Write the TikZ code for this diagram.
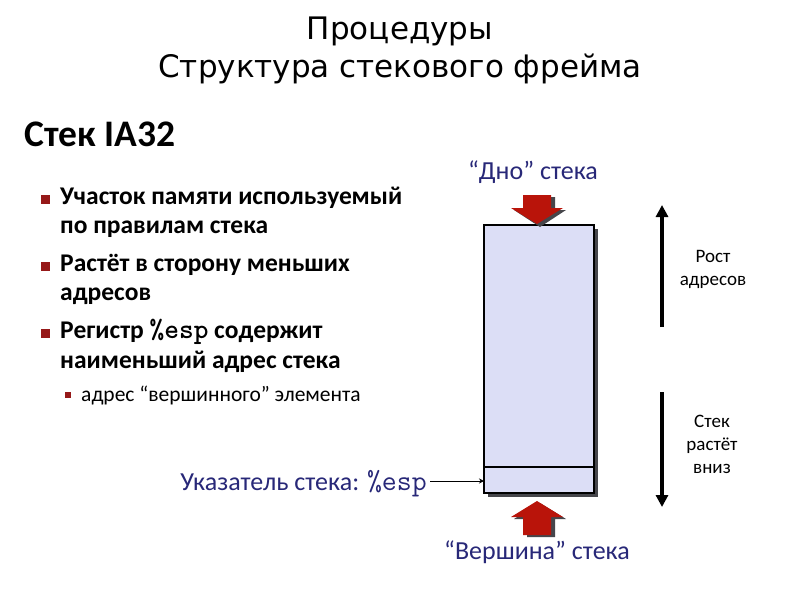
\documentclass[tikz,border=0pt]{standalone}
\usepackage{fontspec}
\setmainfont{Carlito}
\newfontfamily\titlefont{DejaVu Sans}
\usetikzlibrary{arrows.meta}
\definecolor{navy}{RGB}{40,40,120}
\definecolor{bulletred}{RGB}{150,25,25}
\definecolor{arrred}{RGB}{185,20,10}
\definecolor{stackfill}{RGB}{220,222,246}
\definecolor{shadowgray}{RGB}{70,70,75}
\tikzset{
  titletext/.style={font=\titlefont\fontsize{31}{38}\selectfont, align=center, inner sep=0},
  bultext/.style={font=\bfseries\fontsize{25.5}{29}\selectfont, anchor=west, inner sep=0},
  subtext/.style={font=\fontsize{21.5}{23}\selectfont, anchor=west, inner sep=0},
  bulsq/.style={fill=bulletred, minimum size=9pt, inner sep=0},
  subsq/.style={fill=bulletred, minimum size=6pt, inner sep=0},
  navylabel/.style={font=\fontsize{26}{30}\selectfont, text=navy, inner sep=0},
  sidelabel/.style={font=\fontsize{19}{23}\selectfont, align=center, inner sep=0},
  bigarrow/.style={line width=3.5pt, -{Triangle[width=12pt,length=12pt]}},
}
\begin{document}
\begin{tikzpicture}[x=1pt,y=-1pt]
\useasboundingbox (0,0) rectangle (800,600);
\fill[white] (0,0) rectangle (800,600);

% title
\node[titletext] (title) at (400,50) {Процедуры\\Структура стекового фрейма};

\node[font=\bfseries\fontsize{37.5}{42}\selectfont, anchor=west, inner sep=0] (head) at (24,134) {Стек IA32};

% bullets
\node[bulsq] (b1) at (45,199) {};
\node[bultext] (t1) at (60,198) {Участок памяти используемый};
\node[bultext] (t1b) at (60,229) {по правилам стека};
\node[bulsq] (b2) at (45,266) {};
\node[bultext] (t2) at (60,265) {Растёт в сторону меньших};
\node[bultext] (t2b) at (60,296) {адресов};
\node[bulsq] (b3) at (45,333) {};
\node[bultext] (t3) at (60,332) {Регистр {\ttfamily\bfseries\fontsize{28}{29}\selectfont\%esp} содержит};
\node[bultext] (t3b) at (60,362) {наименьший адрес стека};
\node[subsq] (b4) at (68,395) {};
\node[subtext] (t4) at (81,396) {адрес “вершинного” элемента};

% stack
\fill[shadowgray] (488,229) rectangle (598,497);
\draw[fill=stackfill, line width=1.6pt] (484,225) rectangle (594,493);
\coordinate (dl) at (484,467);
\coordinate (dr) at (594,467);
\draw[line width=1.6pt] (dl) -- (dr);

% top arrow
\fill[shadowgray] (527,197) -- (555,197) -- (555,210) -- (566,210) -- (540,227) -- (514,210) -- (527,210) -- cycle;
\fill[arrred] (523,195) -- (551,195) -- (551,208) -- (563,208) -- (537,224) -- (511,208) -- (523,208) -- cycle;
% bottom arrow
\fill[shadowgray] (527,537) -- (555,537) -- (555,519) -- (566,519) -- (540,503) -- (514,519) -- (527,519) -- cycle;
\fill[arrred] (523,535) -- (551,535) -- (551,517) -- (563,517) -- (537,501) -- (511,517) -- (523,517) -- cycle;

\node[navylabel] (dno) at (533,172) {“Дно” стека};
\node[navylabel] (ver) at (537,552) {“Вершина” стека};

% pointer
\node[navylabel, anchor=east] (ptr) at (427,484) {Указатель стека: {\ttfamily\fontsize{29}{30}\selectfont\%esp}};
\draw[line width=1pt, -{Stealth[length=5pt,width=5pt]}] (ptr.east) ++(3,-3) coordinate (ps) -- (dl |- ps);

% right arrows
\coordinate (u1) at (662,327);
\coordinate (u2) at (662,205);
\draw[bigarrow] (u1) -- (u2);
\node[sidelabel] (rost) at (713,269) {Рост\\адресов};
\coordinate (d1) at (662,392);
\coordinate (d2) at (662,507);
\draw[bigarrow] (d1) -- (d2);
\node[sidelabel] (grow) at (712,444) {Стек\\растёт\\вниз};
\end{tikzpicture}
\end{document}
